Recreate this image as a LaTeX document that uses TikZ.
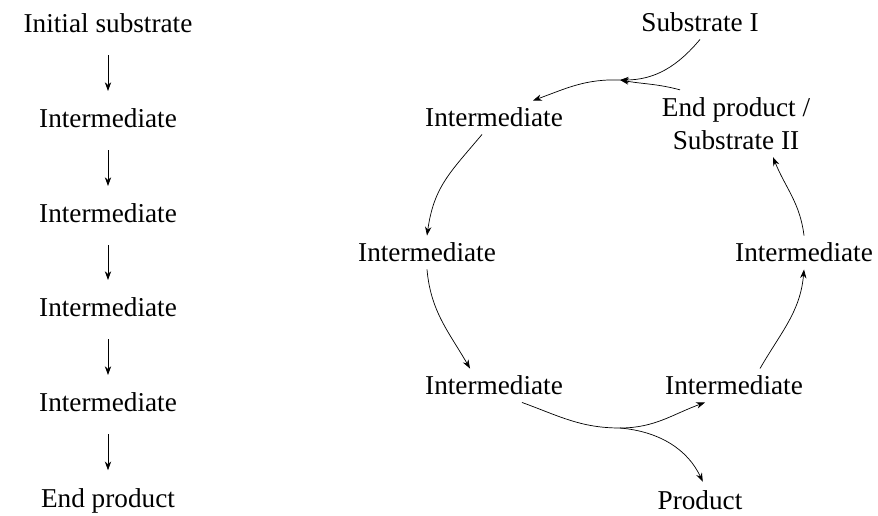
\documentclass[tikz,border=0pt]{standalone}
\usepackage{fontspec}
\setmainfont{Liberation Serif}
\usetikzlibrary{arrows.meta}
\tikzset{
  species/.style={inner sep=2pt, font=\fontsize{15.5}{19}\selectfont},
  cycspecies/.style={species, inner sep=4pt, align=center},
  linear/.style={-{Stealth[length=5pt,width=3.6pt]}, shorten <=10.5pt, shorten >=8pt},
  reaction/.style={-{Stealth[length=5pt,width=3.6pt]}},
}
\begin{document}
\begin{tikzpicture}[x=1.0cm,y=1.0cm]
  \useasboundingbox (0,0) rectangle (17.56,10.3);
  % linear pathway
  \node[species] (init) at (2.16,9.83) {Initial substrate};
  \node[species] (lin1) at (2.16,7.93) {Intermediate};
  \node[species] (lin2) at (2.16,6.03) {Intermediate};
  \node[species] (lin3) at (2.16,4.15) {Intermediate};
  \node[species] (lin4) at (2.16,2.25) {Intermediate};
  \node[species] (endp) at (2.16,0.29) {End product};
  \draw[linear] (init) -- (lin1);
  \draw[linear] (lin1) -- (lin2);
  \draw[linear] (lin2) -- (lin3);
  \draw[linear] (lin3) -- (lin4);
  \draw[linear] (lin4) -- (endp);
  % cyclic pathway
  \node[cycspecies] (sub1) at (14.0,9.85) {Substrate I};
  \node[cycspecies] (sub2) at (14.72,7.83) {End product /\\Substrate II};
  \node[cycspecies] (cyc1) at (9.88,7.95) {Intermediate};
  \node[cycspecies] (cyc2) at (8.54,5.25) {Intermediate};
  \node[cycspecies] (cyc3) at (9.88,2.59) {Intermediate};
  \node[cycspecies] (cyc4) at (14.68,2.59) {Intermediate};
  \node[cycspecies] (cyc5) at (16.08,5.25) {Intermediate};
  \node[species] (prod) at (14.0,0.3) {Product};
  \coordinate (topjoin) at (12.4,8.7);
  \coordinate (botjoin) at (12.4,1.74);
  \draw[reaction] (sub1.south) to[out=230,in=0] (topjoin);
  \draw[reaction] ([xshift=-11.2mm]sub2.north) to[out=165,in=-10] (topjoin);
  \draw[reaction] (topjoin) to[out=178,in=20] ([xshift=7.8mm]cyc1.north);
  \draw[reaction] ([xshift=-2.4mm]cyc1.south) to[out=230,in=82,looseness=1.1] (cyc2.north);
  \draw[reaction] (cyc2.south) to[out=-85,in=120] ([xshift=-4.8mm]cyc3.north);
  \draw ([xshift=5.6mm]cyc3.south) to[out=-20,in=180] (botjoin);
  \draw[reaction] (botjoin) to[out=0,in=200] ([xshift=-5.8mm]cyc4.south);
  \draw[reaction, shorten >=3pt] (botjoin) to[out=-5,in=115] ([xshift=1mm]prod.north);
  \draw[reaction] ([xshift=5.2mm]cyc4.north) to[out=60,in=-95] (cyc5.south);
  \draw[reaction] (cyc5.north) to[out=97,in=-68] ([xshift=7.4mm]sub2.south);
\end{tikzpicture}
\end{document}
